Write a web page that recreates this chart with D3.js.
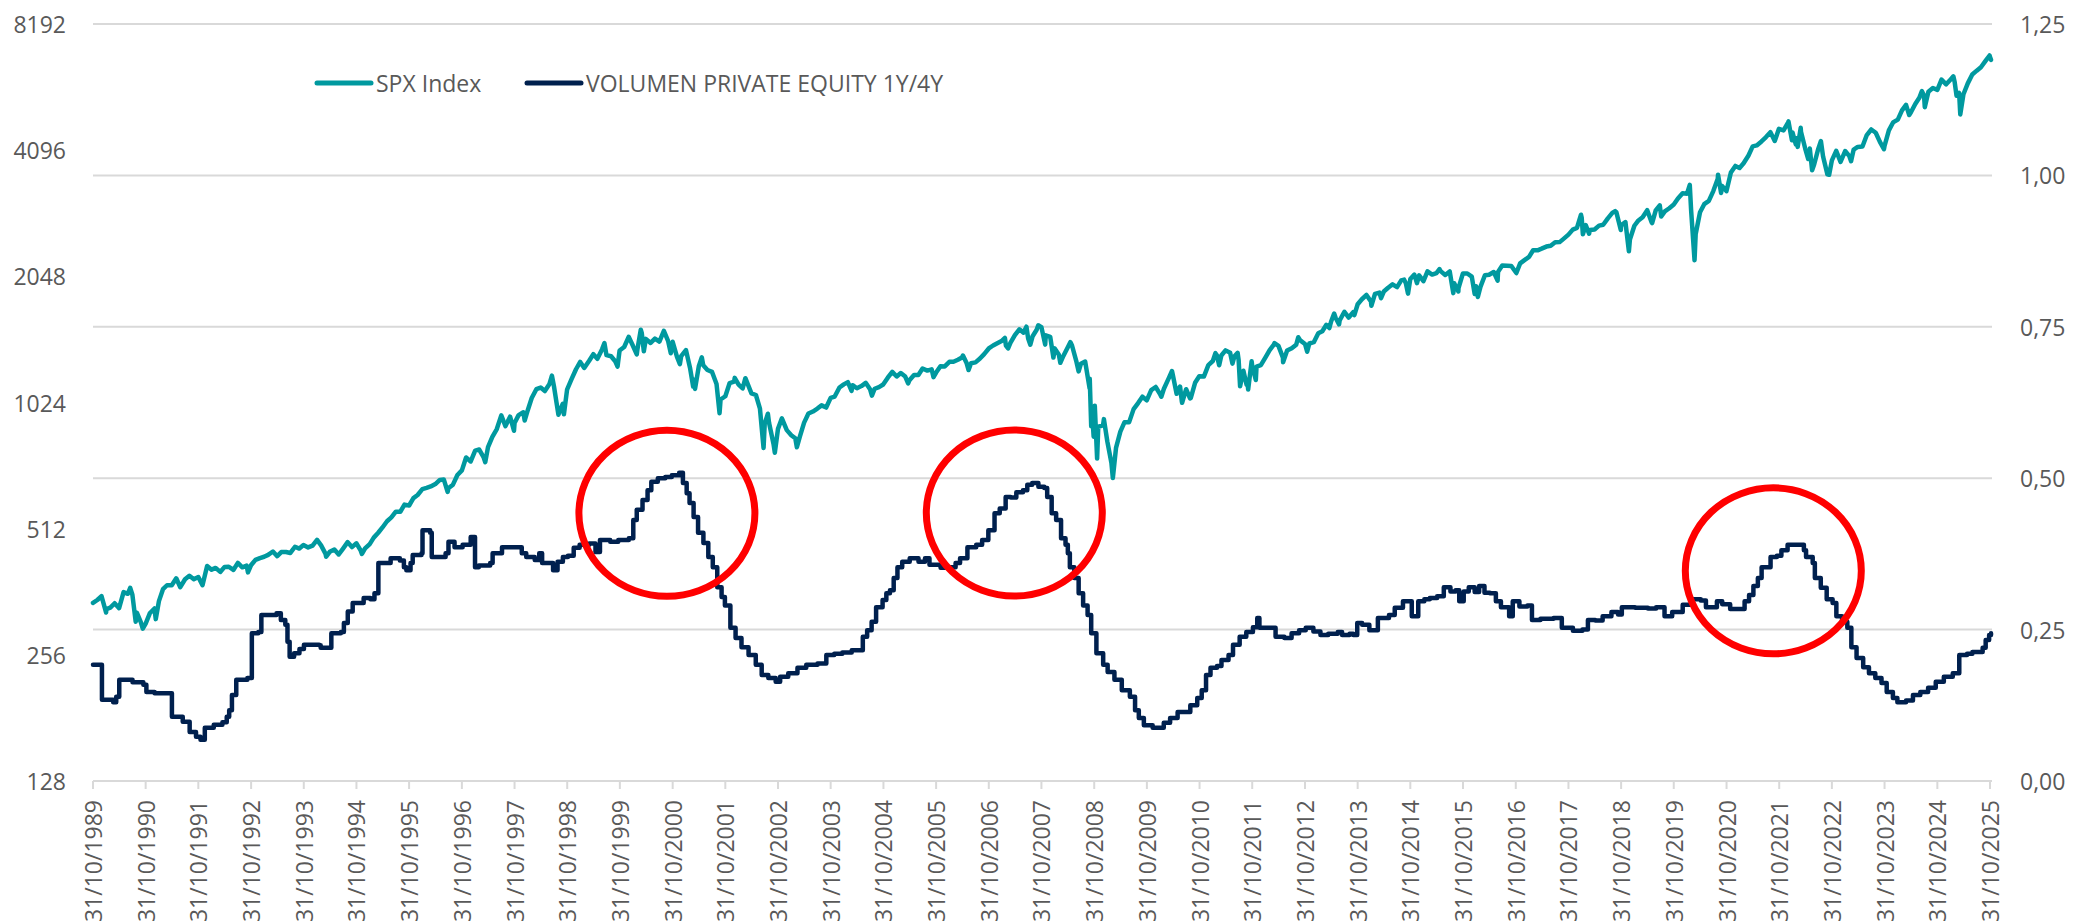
<!DOCTYPE html>
<html><head><meta charset="utf-8">
<script src="https://cdn.jsdelivr.net/npm/d3@7"></script>
<style>
html,body{margin:0;padding:0;background:#fff;}
svg{display:block;}
text{font-family:'Open Sans','DejaVu Sans',sans-serif;}
</style>
</head><body>
<svg id="chart" width="2074" height="924"></svg>
<script>
// ---------------- DATA ----------------
const seriesNames = ["SPX Index", "VOLUMEN PRIVATE EQUITY 1Y/4Y"];
const leftTicks = [128, 256, 512, 1024, 2048, 4096, 8192];
const rightTicks = [0, 0.25, 0.5, 0.75, 1.0, 1.25];
const xTickYears = [1989,1990,1991,1992,1993,1994,1995,1996,1997,1998,1999,2000,2001,2002,2003,2004,2005,2006,2007,2008,2009,2010,2011,2012,2013,2014,2015,2016,2017,2018,2019,2020,2021,2022,2023,2024,2025];

// SPX Index (left axis, log2)
const spx = [
["1989-10-31",340.4],["1989-11-30",346.0],["1989-12-29",353.4],["1990-01-30",323.0],["1990-01-31",329.1],["1990-02-28",331.9],["1990-03-30",339.9],["1990-04-30",330.8],["1990-05-31",361.2],["1990-06-29",358.0],["1990-07-16",369.8],["1990-07-31",356.2],["1990-08-23",307.1],["1990-08-31",322.6],["1990-09-28",306.1],["1990-10-11",295.5],["1990-10-31",304.0],["1990-11-30",322.2],["1990-12-31",330.2],
["1991-01-09",311.5],["1991-01-31",343.9],["1991-02-28",367.1],["1991-03-28",375.2],["1991-04-30",375.3],["1991-05-31",389.8],["1991-06-28",371.2],["1991-07-31",387.8],["1991-08-30",395.4],["1991-09-30",387.9],["1991-10-31",392.5],["1991-11-29",375.2],["1991-12-31",417.1],
["1992-01-31",408.8],["1992-02-28",412.7],["1992-03-31",403.7],["1992-04-30",415.0],["1992-05-29",415.4],["1992-06-30",408.1],["1992-07-31",424.2],["1992-08-31",414.0],["1992-09-30",417.8],["1992-10-09",402.7],["1992-10-30",418.7],["1992-11-30",431.4],["1992-12-31",435.7],
["1993-01-29",438.8],["1993-02-26",443.4],["1993-03-31",451.7],["1993-04-30",440.2],["1993-05-28",450.2],["1993-06-30",450.5],["1993-07-30",448.1],["1993-08-31",463.6],["1993-09-30",458.9],["1993-10-29",467.8],["1993-11-30",461.8],["1993-12-31",466.5],
["1994-01-31",481.6],["1994-02-28",467.1],["1994-03-31",445.8],["1994-04-04",438.9],["1994-04-29",450.9],["1994-05-31",456.5],["1994-06-30",444.3],["1994-07-29",458.3],["1994-08-31",475.5],["1994-09-30",462.7],["1994-10-31",472.4],["1994-11-30",453.7],["1994-12-08",445.5],["1994-12-30",459.3],
["1995-01-31",470.4],["1995-02-28",487.4],["1995-03-31",500.7],["1995-04-28",514.7],["1995-05-31",533.4],["1995-06-30",544.8],["1995-07-31",562.1],["1995-08-31",561.9],["1995-09-29",584.4],["1995-10-31",581.5],["1995-11-30",605.4],["1995-12-29",615.9],
["1996-01-31",636.0],["1996-02-29",640.4],["1996-03-29",645.5],["1996-04-30",654.2],["1996-05-31",669.1],["1996-06-28",670.6],["1996-07-24",626.7],["1996-07-31",640.0],["1996-08-30",652.0],["1996-09-30",687.3],["1996-10-31",705.3],["1996-11-29",757.0],["1996-12-31",740.7],
["1997-01-31",786.2],["1997-02-28",790.8],["1997-03-31",757.1],["1997-04-11",737.7],["1997-04-30",801.3],["1997-05-30",848.3],["1997-06-30",885.1],["1997-07-31",954.3],["1997-08-29",899.5],["1997-09-30",947.3],["1997-10-27",877.0],["1997-10-31",914.6],["1997-11-28",955.4],["1997-12-31",970.4],
["1998-01-09",927.7],["1998-01-30",980.3],["1998-02-27",1049.3],["1998-03-31",1101.8],["1998-04-30",1111.8],["1998-05-29",1090.8],["1998-06-30",1133.8],["1998-07-17",1186.8],["1998-07-31",1120.7],["1998-08-31",957.3],["1998-09-30",1017.0],["1998-10-08",959.4],["1998-10-30",1098.7],["1998-11-30",1163.6],["1998-12-31",1229.2],
["1999-01-29",1279.6],["1999-02-26",1238.3],["1999-03-31",1286.4],["1999-04-30",1335.2],["1999-05-28",1301.8],["1999-06-30",1372.7],["1999-07-16",1418.8],["1999-07-30",1328.7],["1999-08-31",1320.4],["1999-09-30",1282.7],["1999-10-15",1247.4],["1999-10-29",1362.9],["1999-11-30",1388.9],["1999-12-31",1469.3],
["2000-01-31",1394.5],["2000-02-25",1333.4],["2000-02-29",1366.4],["2000-03-24",1527.5],["2000-03-31",1498.6],["2000-04-14",1356.6],["2000-04-28",1452.4],["2000-05-31",1420.6],["2000-06-30",1454.6],["2000-07-31",1430.8],["2000-08-31",1517.7],["2000-09-29",1436.5],["2000-10-18",1342.1],["2000-10-31",1429.4],["2000-11-30",1315.0],["2000-12-20",1264.7],["2000-12-29",1320.3],
["2001-01-31",1366.0],["2001-02-28",1239.9],["2001-03-22",1117.6],["2001-03-30",1160.3],["2001-04-04",1103.3],["2001-04-30",1249.5],["2001-05-21",1312.8],["2001-05-31",1255.8],["2001-06-29",1224.4],["2001-07-31",1211.2],["2001-08-31",1133.6],["2001-09-21",965.8],["2001-09-28",1040.9],["2001-10-31",1059.8],["2001-11-30",1139.5],["2001-12-31",1148.1],
["2002-01-04",1172.5],["2002-01-31",1130.2],["2002-02-28",1106.7],["2002-03-19",1170.3],["2002-04-30",1076.9],["2002-05-31",1067.1],["2002-06-28",989.8],["2002-07-23",797.7],["2002-07-31",911.6],["2002-08-22",962.7],["2002-08-30",916.1],["2002-09-30",815.3],["2002-10-09",776.8],["2002-10-31",885.8],["2002-11-27",938.9],["2002-12-31",879.8],
["2003-01-31",855.7],["2003-02-28",841.2],["2003-03-11",800.7],["2003-03-31",848.2],["2003-04-30",916.9],["2003-05-30",963.6],["2003-06-30",974.5],["2003-07-31",990.3],["2003-08-29",1008.0],["2003-09-30",996.0],["2003-10-31",1050.7],["2003-11-28",1058.2],["2003-12-31",1111.9],
["2004-01-30",1131.1],["2004-02-27",1144.9],["2004-03-24",1091.3],["2004-03-31",1126.2],["2004-04-30",1107.3],["2004-05-31",1120.7],["2004-06-30",1140.8],["2004-07-30",1101.7],["2004-08-12",1063.2],["2004-08-31",1104.2],["2004-09-30",1114.6],["2004-10-29",1130.2],["2004-11-30",1173.8],["2004-12-31",1211.9],
["2005-01-31",1181.3],["2005-02-28",1203.6],["2005-03-31",1180.6],["2005-04-20",1137.5],["2005-04-29",1156.9],["2005-05-31",1191.5],["2005-06-30",1191.3],["2005-07-29",1234.2],["2005-08-31",1220.3],["2005-09-30",1228.8],["2005-10-13",1176.8],["2005-10-31",1207.0],["2005-11-30",1249.5],["2005-12-30",1248.3],
["2006-01-31",1280.1],["2006-02-28",1280.7],["2006-03-31",1294.8],["2006-04-28",1310.6],["2006-05-05",1325.8],["2006-05-31",1270.1],["2006-06-13",1223.7],["2006-06-30",1270.2],["2006-07-31",1276.7],["2006-08-31",1303.8],["2006-09-29",1335.9],["2006-10-31",1377.9],["2006-11-30",1400.6],["2006-12-29",1418.3],
["2007-01-31",1438.2],["2007-02-20",1459.7],["2007-02-27",1399.0],["2007-03-14",1377.9],["2007-03-30",1420.9],["2007-04-30",1482.4],["2007-05-31",1530.6],["2007-06-29",1503.4],["2007-07-19",1553.1],["2007-07-31",1455.3],["2007-08-15",1406.7],["2007-08-31",1474.0],["2007-09-28",1526.8],["2007-10-09",1565.2],["2007-10-31",1549.4],["2007-11-26",1407.2],["2007-11-30",1481.1],["2007-12-31",1468.4],
["2008-01-22",1310.5],["2008-01-31",1378.6],["2008-02-29",1330.6],["2008-03-10",1273.4],["2008-03-31",1322.7],["2008-04-30",1385.6],["2008-05-19",1426.6],["2008-05-30",1400.4],["2008-06-30",1280.0],["2008-07-15",1214.9],["2008-07-31",1267.4],["2008-08-29",1282.8],["2008-09-29",1106.4],["2008-09-30",1166.4],["2008-10-10",899.2],["2008-10-13",1003.4],["2008-10-27",848.9],["2008-10-31",968.8],["2008-11-04",1005.8],["2008-11-20",752.4],["2008-11-28",896.2],["2008-12-31",903.3],
["2009-01-06",934.7],["2009-01-30",825.9],["2009-02-27",735.1],["2009-03-09",676.5],["2009-03-31",797.9],["2009-04-30",872.8],["2009-05-29",919.1],["2009-06-30",919.3],["2009-07-31",987.5],["2009-08-31",1020.6],["2009-09-30",1057.1],["2009-10-30",1036.2],["2009-11-30",1095.6],["2009-12-31",1115.1],
["2010-01-29",1073.9],["2010-02-08",1056.7],["2010-02-26",1104.5],["2010-03-31",1169.4],["2010-04-23",1217.3],["2010-04-30",1186.7],["2010-05-25",1074.0],["2010-05-28",1089.4],["2010-06-18",1117.5],["2010-06-30",1030.7],["2010-07-02",1022.6],["2010-07-30",1101.6],["2010-08-26",1047.2],["2010-08-31",1049.3],["2010-09-30",1141.2],["2010-10-29",1183.3],["2010-11-30",1180.6],["2010-12-31",1257.6],
["2011-01-31",1286.1],["2011-02-18",1343.0],["2011-02-28",1327.2],["2011-03-16",1256.9],["2011-03-31",1325.8],["2011-04-29",1363.6],["2011-05-31",1345.2],["2011-06-16",1267.6],["2011-06-30",1320.6],["2011-07-22",1345.0],["2011-07-29",1292.3],["2011-08-08",1119.5],["2011-08-31",1218.9],["2011-09-22",1129.6],["2011-09-30",1131.4],["2011-10-03",1099.2],["2011-10-27",1284.6],["2011-10-31",1253.3],["2011-11-25",1158.7],["2011-11-30",1247.0],["2011-12-30",1257.6],
["2012-01-31",1312.4],["2012-02-29",1365.7],["2012-03-30",1408.5],["2012-04-02",1419.0],["2012-04-30",1397.9],["2012-05-31",1310.3],["2012-06-01",1278.0],["2012-06-29",1362.2],["2012-07-31",1379.3],["2012-08-31",1406.6],["2012-09-14",1465.8],["2012-09-28",1440.7],["2012-10-31",1412.2],["2012-11-15",1353.3],["2012-11-30",1416.2],["2012-12-31",1426.2],
["2013-01-31",1498.1],["2013-02-28",1514.7],["2013-03-28",1569.2],["2013-04-18",1541.6],["2013-04-30",1597.6],["2013-05-21",1669.2],["2013-05-31",1630.7],["2013-06-24",1573.1],["2013-06-28",1606.3],["2013-07-31",1685.7],["2013-08-30",1633.0],["2013-09-30",1681.6],["2013-10-08",1655.5],["2013-10-31",1756.5],["2013-11-29",1805.8],["2013-12-31",1848.4],
["2014-01-31",1782.6],["2014-02-03",1741.9],["2014-02-28",1859.5],["2014-03-31",1872.3],["2014-04-11",1815.7],["2014-04-30",1884.0],["2014-05-30",1923.6],["2014-06-30",1960.2],["2014-07-31",1930.7],["2014-08-29",2003.4],["2014-09-18",2011.4],["2014-09-30",1972.3],["2014-10-15",1862.5],["2014-10-31",2018.1],["2014-11-28",2067.6],["2014-12-16",1972.7],["2014-12-31",2058.9],
["2015-01-30",1995.0],["2015-02-27",2104.5],["2015-03-31",2067.9],["2015-04-30",2085.5],["2015-05-21",2130.8],["2015-05-29",2107.4],["2015-06-30",2063.1],["2015-07-31",2103.8],["2015-08-25",1867.6],["2015-08-31",1972.2],["2015-09-29",1884.1],["2015-09-30",1920.0],["2015-10-30",2079.4],["2015-11-30",2080.4],["2015-12-31",2043.9],
["2016-01-20",1859.3],["2016-01-29",1940.2],["2016-02-11",1829.1],["2016-02-29",1932.2],["2016-03-31",2059.7],["2016-04-29",2065.3],["2016-05-31",2097.0],["2016-06-27",2000.5],["2016-06-30",2098.9],["2016-07-29",2173.6],["2016-08-31",2171.0],["2016-09-30",2168.3],["2016-11-04",2085.2],["2016-11-30",2198.8],["2016-12-30",2238.8],
["2017-01-31",2278.9],["2017-02-28",2363.6],["2017-03-31",2362.7],["2017-04-28",2384.2],["2017-05-31",2411.8],["2017-06-30",2423.4],["2017-07-31",2470.3],["2017-08-31",2471.7],["2017-09-29",2519.4],["2017-10-31",2575.3],["2017-11-30",2647.6],["2017-12-29",2673.6],
["2018-01-26",2872.9],["2018-01-31",2823.8],["2018-02-08",2581.0],["2018-02-28",2713.8],["2018-03-23",2588.3],["2018-03-29",2640.9],["2018-04-30",2648.1],["2018-05-31",2705.3],["2018-06-29",2718.4],["2018-07-31",2816.3],["2018-08-31",2901.5],["2018-09-20",2930.8],["2018-09-28",2914.0],["2018-10-29",2641.3],["2018-10-31",2711.7],["2018-11-30",2760.2],["2018-12-24",2351.1],["2018-12-31",2506.9],
["2019-01-31",2704.1],["2019-02-28",2784.5],["2019-03-29",2834.4],["2019-04-30",2945.8],["2019-05-31",2752.1],["2019-06-03",2744.5],["2019-06-28",2941.8],["2019-07-26",3025.9],["2019-08-05",2844.7],["2019-08-30",2926.5],["2019-09-30",2976.7],["2019-10-31",3037.6],["2019-11-29",3141.0],["2019-12-31",3230.8],
["2020-01-31",3225.5],["2020-02-19",3386.2],["2020-02-28",2954.2],["2020-03-23",2237.4],["2020-03-31",2584.6],["2020-04-30",2912.4],["2020-05-29",3044.3],["2020-06-30",3100.3],["2020-07-31",3271.1],["2020-08-31",3500.3],["2020-09-02",3580.8],["2020-09-23",3237.0],["2020-09-30",3363.0],["2020-10-30",3270.0],["2020-11-30",3621.6],["2020-12-31",3756.1],
["2021-01-29",3714.2],["2021-02-26",3811.2],["2021-03-31",3972.9],["2021-04-30",4181.2],["2021-05-28",4204.1],["2021-06-30",4297.5],["2021-07-30",4395.3],["2021-08-31",4522.7],["2021-09-30",4307.5],["2021-10-29",4605.4],["2021-11-30",4567.0],["2021-12-31",4766.2],
["2022-01-03",4796.6],["2022-01-27",4326.5],["2022-01-31",4515.6],["2022-02-23",4225.5],["2022-02-28",4373.9],["2022-03-08",4170.7],["2022-03-29",4631.6],["2022-03-31",4530.4],["2022-04-29",4131.9],["2022-05-20",3901.4],["2022-05-31",4132.2],["2022-06-16",3666.8],["2022-06-30",3785.4],["2022-07-29",4130.3],["2022-08-16",4305.2],["2022-08-31",3955.0],["2022-09-30",3585.6],["2022-10-12",3577.0],["2022-10-31",3872.0],["2022-11-30",4080.1],["2022-12-30",3839.5],
["2023-01-31",4076.6],["2023-02-28",3970.2],["2023-03-13",3855.8],["2023-03-31",4109.3],["2023-04-28",4169.5],["2023-05-31",4179.8],["2023-06-30",4450.4],["2023-07-31",4589.0],["2023-08-31",4507.7],["2023-09-29",4288.1],["2023-10-27",4117.4],["2023-10-31",4193.8],["2023-11-30",4567.8],["2023-12-29",4769.8],
["2024-01-31",4845.7],["2024-02-29",5096.3],["2024-03-28",5254.4],["2024-04-19",4967.2],["2024-04-30",5035.7],["2024-05-31",5277.5],["2024-06-28",5460.5],["2024-07-16",5667.2],["2024-07-31",5522.3],["2024-08-05",5186.3],["2024-08-30",5648.4],["2024-09-30",5762.5],["2024-10-31",5705.5],["2024-11-29",6032.4],["2024-12-31",5881.6],
["2025-01-31",6040.5],["2025-02-19",6144.2],["2025-02-28",5954.5],["2025-03-13",5521.5],["2025-03-31",5611.9],["2025-04-08",4982.8],["2025-04-30",5569.1],["2025-05-30",5911.7],["2025-06-30",6205.0],["2025-07-31",6339.4],["2025-08-29",6460.3],["2025-09-30",6688.5],["2025-10-28",6890.9],["2025-10-31",6840.2],["2025-11-07",6728.8]
];

// VOLUMEN PRIVATE EQUITY 1Y/4Y (right axis, step series)
const peVolume = [
["1989-10-31",0.192],["1990-01-01",0.134],["1990-03-20",0.130],["1990-04-10",0.139],["1990-05-01",0.167],["1990-08-01",0.163],["1990-10-15",0.159],["1990-11-05",0.147],["1991-01-01",0.145],["1991-05-01",0.106],["1991-07-15",0.098],["1991-09-01",0.081],["1991-10-15",0.073],["1991-11-15",0.068],["1991-12-15",0.088],
["1992-02-15",0.093],["1992-04-15",0.097],["1992-05-15",0.106],["1992-06-01",0.117],["1992-06-20",0.142],["1992-07-20",0.167],["1992-10-05",0.170],["1992-11-05",0.244],["1992-12-20",0.246],["1993-01-10",0.274],["1993-04-25",0.277],["1993-05-25",0.266],["1993-06-25",0.258],["1993-07-10",0.230],["1993-07-25",0.205],["1993-08-25",0.211],["1993-10-01",0.218],["1993-11-01",0.225],
["1994-02-15",0.224],["1994-02-25",0.220],["1994-05-01",0.220],["1994-05-10",0.244],["1994-07-15",0.246],["1994-08-05",0.261],["1994-09-01",0.280],["1994-10-05",0.294],["1994-12-20",0.302],["1995-02-05",0.300],["1995-03-05",0.310],["1995-04-01",0.360],["1995-06-25",0.368],["1995-08-28",0.364],["1995-09-25",0.353],["1995-10-12",0.348],["1995-11-10",0.360],["1995-11-25",0.373],
["1996-01-25",0.376],["1996-02-01",0.414],["1996-03-25",0.410],["1996-04-05",0.370],["1996-07-10",0.376],["1996-07-30",0.395],["1996-09-10",0.386],["1996-11-05",0.390],["1996-12-31",0.403],["1997-01-30",0.353],["1997-02-25",0.356],["1997-05-15",0.360],["1997-06-01",0.376],["1997-08-05",0.386],["1997-12-05",0.386],["1997-12-20",0.376],
["1998-01-20",0.370],["1998-03-20",0.365],["1998-04-20",0.376],["1998-05-10",0.360],["1998-07-25",0.348],["1998-08-25",0.362],["1998-10-01",0.370],["1998-11-05",0.372],["1998-12-15",0.385],["1999-01-25",0.390],["1999-04-01",0.392],["1999-05-15",0.378],["1999-06-15",0.398],["1999-08-25",0.395],["1999-10-20",0.398],
["2000-01-01",0.401],["2000-02-01",0.431],["2000-02-25",0.448],["2000-04-05",0.464],["2000-05-10",0.480],["2000-06-05",0.494],["2000-07-20",0.500],["2000-09-10",0.502],["2000-10-25",0.505],["2000-12-15",0.509],["2001-01-10",0.492],["2001-02-05",0.475],["2001-02-25",0.459],["2001-03-25",0.436],["2001-04-25",0.410],["2001-06-01",0.393],["2001-07-05",0.370],["2001-08-05",0.353],["2001-09-05",0.320],["2001-10-05",0.304],["2001-10-28",0.290],["2001-12-05",0.253],
["2002-01-10",0.236],["2002-02-20",0.221],["2002-04-10",0.208],["2002-05-30",0.192],["2002-07-10",0.175],["2002-08-25",0.170],["2002-10-15",0.164],["2002-11-15",0.172],["2003-01-10",0.178],["2003-03-15",0.187],["2003-05-15",0.192],["2003-08-01",0.194],["2003-10-01",0.208],["2003-11-25",0.210],
["2004-01-20",0.212],["2004-03-25",0.216],["2004-05-05",0.216],["2004-06-10",0.238],["2004-07-10",0.249],["2004-08-10",0.263],["2004-09-10",0.287],["2004-10-25",0.299],["2004-11-20",0.310],["2004-12-15",0.315],["2005-01-10",0.335],["2005-02-05",0.353],["2005-03-10",0.362],["2005-05-01",0.368],["2005-07-01",0.362],["2005-08-15",0.368],["2005-09-15",0.357],["2005-12-01",0.352],
["2006-01-20",0.353],["2006-03-15",0.360],["2006-04-15",0.368],["2006-06-05",0.386],["2006-08-05",0.390],["2006-09-15",0.398],["2006-10-28",0.414],["2006-12-10",0.442],["2007-01-15",0.450],["2007-02-25",0.469],["2007-04-01",0.468],["2007-05-10",0.477],["2007-06-25",0.480],["2007-07-25",0.489],["2007-08-28",0.492],["2007-10-10",0.486],["2007-11-20",0.484],["2007-12-10",0.469],
["2008-01-10",0.442],["2008-02-10",0.431],["2008-03-15",0.401],["2008-04-15",0.390],["2008-05-01",0.376],["2008-05-15",0.353],["2008-06-15",0.335],["2008-07-15",0.310],["2008-08-15",0.290],["2008-09-15",0.274],["2008-10-10",0.244],["2008-11-15",0.211],["2009-01-01",0.192],["2009-02-01",0.180],["2009-03-20",0.167],["2009-05-10",0.150],["2009-07-05",0.139],["2009-08-10",0.117],["2009-09-05",0.104],["2009-10-10",0.092],["2009-12-10",0.088],
["2010-02-25",0.096],["2010-04-10",0.104],["2010-06-01",0.114],["2010-07-15",0.114],["2010-08-28",0.125],["2010-10-15",0.137],["2010-11-15",0.150],["2010-12-15",0.175],["2011-01-15",0.187],["2011-03-01",0.190],["2011-04-01",0.200],["2011-05-20",0.208],["2011-06-20",0.225],["2011-08-05",0.238],["2011-09-20",0.246],["2011-11-05",0.254],["2011-12-05",0.269],["2011-12-20",0.253],
["2012-03-01",0.253],["2012-04-10",0.238],["2012-06-10",0.236],["2012-07-30",0.244],["2012-09-20",0.249],["2012-11-05",0.253],["2012-12-28",0.247],["2013-02-15",0.241],["2013-04-10",0.243],["2013-06-15",0.246],["2013-07-15",0.241],["2013-09-05",0.243],["2013-10-01",0.241],["2013-10-28",0.261],["2013-12-01",0.258],
["2014-01-20",0.249],["2014-03-20",0.269],["2014-06-05",0.274],["2014-07-15",0.286],["2014-09-10",0.297],["2014-11-10",0.272],["2014-12-25",0.297],["2015-02-05",0.300],["2015-03-15",0.302],["2015-05-05",0.305],["2015-06-20",0.320],["2015-08-05",0.313],["2015-09-10",0.315],["2015-10-05",0.297],["2015-11-05",0.313],["2015-12-10",0.320],
["2016-01-20",0.312],["2016-02-20",0.322],["2016-03-28",0.311],["2016-05-05",0.310],["2016-06-15",0.297],["2016-07-20",0.287],["2016-09-15",0.272],["2016-10-10",0.297],["2016-11-25",0.288],["2017-01-20",0.290],["2017-02-20",0.266],["2017-04-20",0.268],["2017-07-20",0.269],["2017-09-15",0.253],["2017-12-01",0.248],
["2018-02-05",0.250],["2018-03-15",0.266],["2018-05-05",0.265],["2018-06-25",0.272],["2018-08-25",0.279],["2018-10-10",0.275],["2018-11-05",0.287],["2019-02-05",0.286],["2019-05-05",0.285],["2019-07-01",0.287],["2019-08-28",0.272],["2019-10-20",0.279],
["2020-01-01",0.291],["2020-03-10",0.300],["2020-05-05",0.298],["2020-06-10",0.287],["2020-08-25",0.297],["2020-10-01",0.292],["2020-11-25",0.284],["2021-02-15",0.284],["2021-03-05",0.297],["2021-04-05",0.307],["2021-05-05",0.322],["2021-06-05",0.335],["2021-07-01",0.353],["2021-09-01",0.370],["2021-10-15",0.372],["2021-11-15",0.381],["2021-12-28",0.390],
["2022-02-28",0.390],["2022-04-20",0.381],["2022-05-05",0.370],["2022-06-20",0.360],["2022-07-05",0.335],["2022-08-15",0.319],["2022-09-25",0.300],["2022-11-05",0.294],["2022-12-01",0.272],["2023-01-10",0.263],["2023-02-15",0.253],["2023-03-15",0.221],["2023-04-20",0.203],["2023-06-05",0.188],["2023-07-15",0.178],["2023-08-28",0.170],["2023-10-10",0.162],["2023-11-15",0.147],["2023-12-28",0.137],
["2024-01-28",0.130],["2024-03-28",0.133],["2024-05-15",0.142],["2024-07-05",0.147],["2024-08-28",0.154],["2024-10-20",0.164],["2024-12-15",0.172],["2025-02-15",0.178],["2025-04-01",0.208],["2025-05-25",0.210],["2025-07-01",0.213],["2025-09-10",0.220],["2025-10-01",0.233],["2025-10-25",0.241],["2025-11-07",0.244]
];

// Red annotation ellipses (centre date, centre value on right axis)
const highlightDates = ["2000-09-21", "2007-04-26", "2021-09-20"];
const highlightValues = [0.442, 0.4425, 0.347];

// ---------------- DRAW ----------------
const parse = d3.timeParse("%Y-%m-%d");
const svg = d3.select("#chart");
const W = 2074, H = 924;
const plot = {left: 93, right: 1990, top: 24, bottom: 781, gridRight: 1992};

const x = d3.scaleTime()
  .domain([new Date(1989, 9, 31), new Date(2025, 9, 31)])
  .range([plot.left, plot.right]);
const yL = d3.scaleLog().base(2).domain([128, 8192]).range([plot.bottom, plot.top]);
const yR = d3.scaleLinear().domain([0, 1.25]).range([plot.bottom, plot.top]);

const textColor = "#595959";
const gridColor = "#d9d9d9";
const tealColor = "#00999f";
const navyColor = "#00204e";
const fontSize = 23;

// gridlines (right axis)
svg.append("g").selectAll("line").data(rightTicks).join("line")
  .attr("x1", plot.left).attr("x2", plot.gridRight)
  .attr("y1", d => yR(d)).attr("y2", d => yR(d))
  .attr("stroke", gridColor).attr("stroke-width", 2);

// x ticks
const tickDates = xTickYears.map(y => new Date(y, 9, 31));
svg.append("g").selectAll("line").data(tickDates).join("line")
  .attr("x1", d => x(d)).attr("x2", d => x(d))
  .attr("y1", plot.bottom).attr("y2", plot.bottom + 8)
  .attr("stroke", gridColor).attr("stroke-width", 2);

const fmtDate = d3.timeFormat("%d/%m/%Y");
svg.append("g").selectAll("text").data(tickDates).join("text")
  .attr("transform", d => `translate(${x(d)},${plot.bottom + 19}) rotate(-90)`)
  .attr("text-anchor", "end")
  .attr("dominant-baseline", "central")
  .attr("font-size", fontSize)
  .attr("fill", textColor)
  .text(d => fmtDate(d));

// left axis labels
svg.append("g").selectAll("text").data(leftTicks).join("text")
  .attr("x", 66).attr("y", d => yL(d))
  .attr("text-anchor", "end").attr("dominant-baseline", "central")
  .attr("font-size", fontSize).attr("fill", textColor)
  .text(d => d);

// right axis labels
const fmtR = d => d3.format(".2f")(d).replace(".", ",");
svg.append("g").selectAll("text").data(rightTicks).join("text")
  .attr("x", 2020).attr("y", d => yR(d))
  .attr("text-anchor", "start").attr("dominant-baseline", "central")
  .attr("font-size", fontSize).attr("fill", textColor)
  .text(d => fmtR(d));

// SPX line
const spxLine = d3.line()
  .x(d => x(parse(d[0])))
  .y(d => yL(d[1]));
svg.append("path").datum(spx)
  .attr("d", spxLine)
  .attr("fill", "none").attr("stroke", tealColor)
  .attr("stroke-width", 4.5).attr("stroke-linejoin", "round").attr("stroke-linecap", "round");

// PE volume step line
const peLine = d3.line()
  .x(d => x(parse(d[0])))
  .y(d => yR(d[1]))
  .curve(d3.curveStepAfter);
svg.append("path").datum(peVolume)
  .attr("d", peLine)
  .attr("fill", "none").attr("stroke", navyColor)
  .attr("stroke-width", 4.5).attr("stroke-linejoin", "round").attr("stroke-linecap", "round");

// highlight ellipses
svg.append("g").selectAll("ellipse").data(highlightDates).join("ellipse")
  .attr("cx", d => x(parse(d)))
  .attr("cy", (d, i) => yR(highlightValues[i]))
  .attr("rx", 88).attr("ry", 83)
  .attr("fill", "none").attr("stroke", "#ff0000").attr("stroke-width", 7);

// legend
const legendColors = [tealColor, navyColor];
const legendX = [317, 527];
const lg = svg.append("g");
seriesNames.forEach((name, i) => {
  lg.append("line")
    .attr("x1", legendX[i]).attr("x2", legendX[i] + 54)
    .attr("y1", 83).attr("y2", 83)
    .attr("stroke", legendColors[i]).attr("stroke-width", 5).attr("stroke-linecap", "round");
  lg.append("text")
    .attr("x", legendX[i] + 59).attr("y", 83)
    .attr("dominant-baseline", "central")
    .attr("font-size", fontSize).attr("fill", textColor)
    .text(name);
});
</script>
</body></html>
